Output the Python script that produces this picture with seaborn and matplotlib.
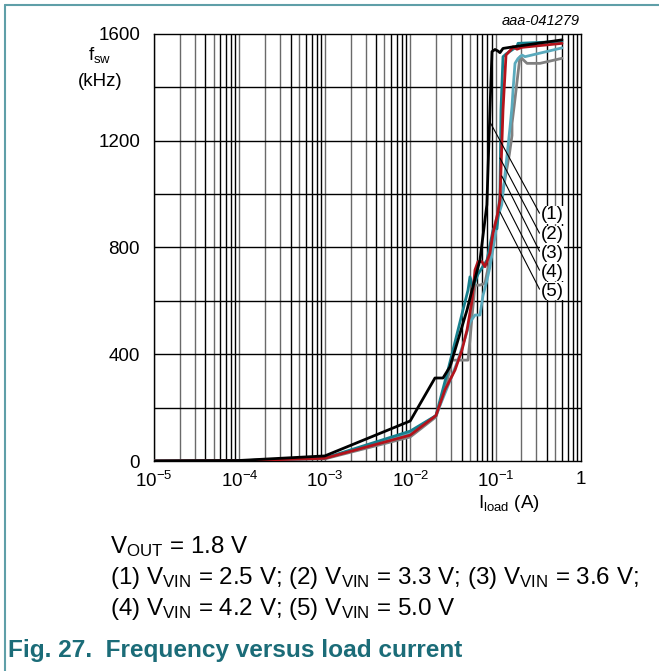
import numpy as np
import pandas as pd
import seaborn as sns
import matplotlib
matplotlib.use("Agg")
import matplotlib.pyplot as plt
from matplotlib.lines import Line2D

# switching frequency (kHz) versus load current (A)
i_load_1 = [1e-5, 1e-4, 1e-3, 1e-2, 0.0195, 0.0242, 0.0292, 0.0335, 0.0404, 0.0463, 0.0529,
            0.0656, 0.079, 0.0859, 0.0907, 0.0984, 0.1067, 0.1125, 0.1221, 0.1688, 0.6]
fsw_1 = [0, 2, 19, 150, 311, 311, 353, 416, 503, 566, 640,
         753, 960, 1315, 1534, 1542, 1536, 1530, 1546, 1553, 1578]

i_load_2 = [1e-5, 1e-4, 1e-3, 1e-2, 0.02, 0.0255, 0.0335, 0.0404, 0.0463, 0.0529, 0.0574, 0.0622,
            0.0693, 0.0751, 0.0859, 0.0932, 0.1038, 0.1125, 0.1221, 0.1324, 0.1556, 0.160, 0.1782,
            0.2038, 0.6]
fsw_2 = [0, 1, 10, 97, 170, 266, 341, 416, 491, 600, 716, 747,
         747, 728, 779, 854, 915, 978, 1315, 1521, 1546, 1552, 1543,
         1550, 1565]

i_load_3 = [1e-5, 1e-4, 1e-3, 1e-2, 0.02, 0.0277, 0.0317, 0.0363, 0.0415, 0.0475, 0.0501, 0.0543,
            0.0622, 0.0793, 0.0932, 0.0984, 0.1038, 0.1125, 0.1156, 0.1221, 0.1324, 0.1782, 0.183, 0.6]
fsw_3 = [0, 1, 11, 112, 170, 341, 416, 491, 566, 640, 690, 652,
         700, 753, 865, 878, 870, 1000, 1315, 1515, 1525, 1553, 1565, 1572]

i_load_4 = [1e-5, 1e-4, 1e-3, 1e-2, 0.02, 0.0292, 0.0363, 0.0438, 0.0501, 0.0574, 0.0656, 0.0712,
            0.0793, 0.0859, 0.0984, 0.1067, 0.118, 0.1475, 0.1556, 0.160, 0.1688, 0.183, 0.2038,
            0.2209, 0.6]
fsw_4 = [0, 1, 10, 105, 170, 300, 378, 460, 520, 547, 547, 620,
         678, 728, 840, 915, 960, 1250, 1328, 1390, 1490, 1508, 1521,
         1515, 1548]

i_load_5 = [1e-5, 1e-4, 1e-3, 1e-2, 0.02, 0.0255, 0.0309, 0.0475, 0.0501, 0.0529, 0.0574, 0.0656,
            0.0751, 0.0793, 0.0859, 0.0932, 0.12, 0.145, 0.1556, 0.1556, 0.165, 0.183, 0.1931,
            0.2332, 0.331, 0.6]
fsw_5 = [0, 1, 8, 90, 165, 266, 378, 378, 453, 540, 659, 659,
         666, 704, 753, 854, 1000, 1150, 1220, 1265, 1330, 1453, 1515,
         1490, 1490, 1509]

curve_labels = ["(1)", "(2)", "(3)", "(4)", "(5)"]
curve_colors = ["#000000", "#b3131b", "#17808e", "#5aaabd", "#808080"]

# where each leader line touches its curve, and where its label sits
leader_from = [(0.0859, 1270), (0.1125, 1135), (0.118, 1068), (0.115, 1000), (0.1125, 933)]
label_y = [922, 847, 779, 708, 637]
label_x = 0.335

x_ticks = [1e-5, 1e-4, 1e-3, 1e-2, 1e-1, 1]
x_tick_labels = [r"$10^{-5}$", r"$10^{-4}$", r"$10^{-3}$", r"$10^{-2}$", r"$10^{-1}$", "1"]
y_ticks = [0, 400, 800, 1200, 1600]

frames = []
for lab, xs, ys in zip(curve_labels,
                       [i_load_1, i_load_2, i_load_3, i_load_4, i_load_5],
                       [fsw_1, fsw_2, fsw_3, fsw_4, fsw_5]):
    frames.append(pd.DataFrame({"I": xs, "f": ys, "curve": lab, "step": range(len(xs))}))
df = pd.concat(frames, ignore_index=True)

sns.set_theme(style="white")
plt.rcParams["font.family"] = ["Liberation Sans", "DejaVu Sans"]
plt.rcParams["mathtext.fontset"] = "custom"
plt.rcParams["mathtext.rm"] = "Liberation Sans"
plt.rcParams["mathtext.it"] = "Liberation Sans:italic"
plt.rcParams["mathtext.default"] = "regular"
plt.rcParams["text.color"] = "black"
plt.rcParams["axes.labelcolor"] = "black"
plt.rcParams["xtick.color"] = "black"
plt.rcParams["ytick.color"] = "black"

W, H = 659, 671
fig = plt.figure(figsize=(W / 100, H / 100), dpi=100)
ax = fig.add_axes([154 / W, 1 - 461 / H, (581 - 154) / W, (461 - 34) / H])


def fx(px):
    return px / W


def fy(py):
    return 1 - py / H


# vertical log grid: decades and the 2..9 lines, in the grey / black mix of the original
for d in range(-5, 0):
    for k in range(1, 10):
        v = k * 10.0 ** d
        col = "#6a6a6a" if k in (1, 2, 3, 5) else "#000000"
        ax.axvline(v, color=col, lw=1.0, zorder=1)
for v in range(200, 1600, 200):
    ax.axhline(v, color="black", lw=1.0, zorder=1)

palette = dict(zip(curve_labels, curve_colors))
sns.lineplot(data=df, x="I", y="f", hue="curve", hue_order=curve_labels[::-1],
             palette=palette, units="curve", estimator=None, sort=False,
             linewidth=2.0, legend=False, ax=ax, zorder=3)

ax.set_xscale("log")
ax.set_xlim(1e-5, 1)
ax.set_ylim(0, 1600)
ax.set_xticks(x_ticks)
ax.set_xticklabels(x_tick_labels)
ax.xaxis.set_minor_locator(matplotlib.ticker.NullLocator())
ax.set_yticks(y_ticks)
ax.tick_params(axis="both", length=0, labelsize=13.5, colors="black")
ax.tick_params(axis="y", pad=10)
ax.tick_params(axis="x", pad=7)
ax.set_xlabel("")
ax.set_ylabel("")
for s in ax.spines.values():
    s.set_color("black")
    s.set_linewidth(1.0)

for lab, (x0, y0), yl in zip(curve_labels, leader_from, label_y):
    ax.annotate(lab, xy=(x0, y0), xytext=(label_x, yl), fontsize=13.5,
                ha="left", va="center",
                bbox=dict(boxstyle="square,pad=0.05", fc="white", ec="none"),
                arrowprops=dict(arrowstyle="-", color="black", lw=0.8,
                                shrinkA=0, shrinkB=0, relpos=(0, 0.5)),
                zorder=5)

# axis titles
fig.text(fx(100), fy(60), r"f$_{sw}$", ha="center", va="baseline", fontsize=13.5)
fig.text(fx(100), fy(86), "(kHz)", ha="center", va="baseline", fontsize=13.5)
fig.text(fx(509), fy(508), r"I$_{load}$ (A)", ha="center", va="baseline", fontsize=13.5)
fig.text(fx(580), fy(25), "aaa-041279", ha="right", va="baseline", fontsize=10.5,
         style="italic")

# conditions and caption
fig.text(fx(110), fy(553), r"V$_{OUT}$ = 1.8 V", ha="left", va="baseline", fontsize=17.4)
fig.text(fx(110), fy(584),
         r"(1) V$_{VIN}$ = 2.5 V; (2) V$_{VIN}$ = 3.3 V; (3) V$_{VIN}$ = 3.6 V;",
         ha="left", va="baseline", fontsize=17.4)
fig.text(fx(110), fy(615), r"(4) V$_{VIN}$ = 4.2 V; (5) V$_{VIN}$ = 5.0 V",
         ha="left", va="baseline", fontsize=17.4)
fig.text(fx(8), fy(657), "Fig. 27.  Frequency versus load current", ha="left",
         va="baseline", fontsize=17.6, fontweight="bold", color="#1b6c78")

# page frame lines at top and left
fig.add_artist(Line2D([fx(5), 1], [fy(5), fy(5)], transform=fig.transFigure,
                      color="#5f9fa8", lw=1.5))
fig.add_artist(Line2D([fx(5), fx(5)], [fy(5), 0], transform=fig.transFigure,
                      color="#5f9fa8", lw=1.5))

fig.savefig("out.png", dpi=100)
